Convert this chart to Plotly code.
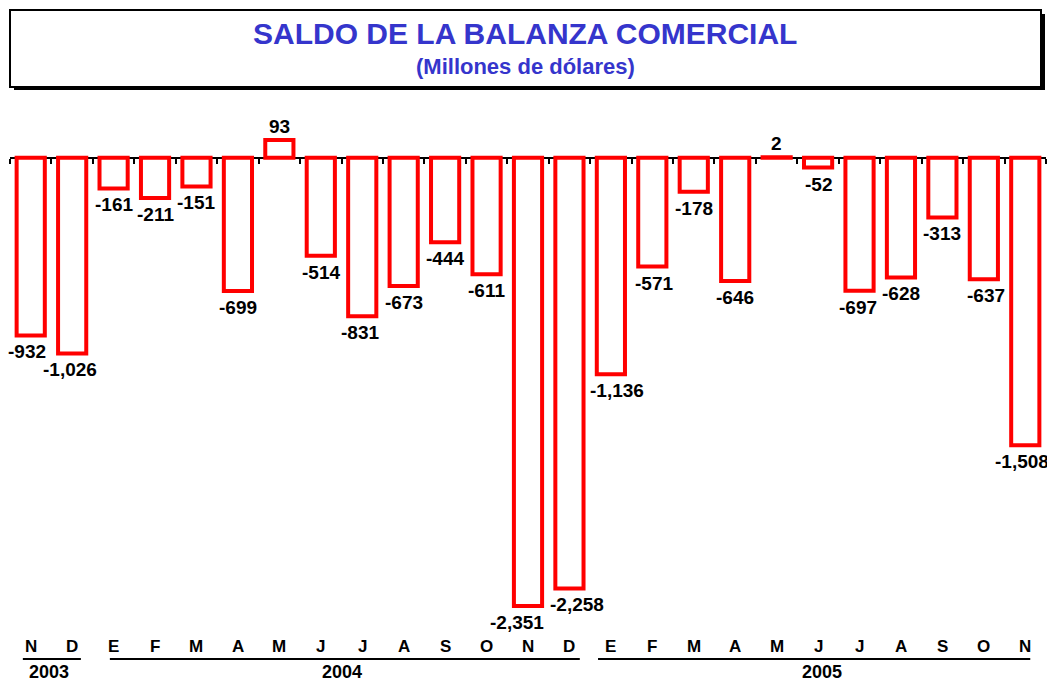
import plotly.graph_objects as go

# ---- data ----
months = ["N", "D", "E", "F", "M", "A", "M", "J", "J", "A", "S", "O", "N", "D",
          "E", "F", "M", "A", "M", "J", "J", "A", "S", "O", "N"]
values = [-932, -1026, -161, -211, -151, -699, 93, -514, -831, -673, -444, -611,
          -2351, -2258, -1136, -571, -178, -646, 2, -52, -697, -628, -313, -637, -1508]
years = ["2003", "2004", "2005"]
year_spans = [(-0.19, 1.21), (1.91, 13.25), (13.69, 24.12)]
year_label_x = [0.44, 7.5, 19.1]

# label horizontal nudges (pixels)
label_xshift = [-4, -2, 0, 0, 0, 0, 0, 0, -2, 0, 0, 0, -11, 8, 6, 2, 0, 0, 0, 0, -2, 0, 0, 2, -3]

# The page body has an 8px margin: design in page pixels, convert to figure pixels.
OFF = 8
W, H = 1055 - OFF, 683 - OFF
PLOT_L, PLOT_R, PLOT_T, PLOT_B = 10, 1046, 110, 625   # page pixels
M_L = PLOT_L - OFF
M_R = W - (PLOT_R - OFF)
M_T = PLOT_T - OFF
M_B = H - (PLOT_B - OFF)
YMIN, YMAX = -2450, 250


def py(pix):
    return (PLOT_B - pix) / (PLOT_B - PLOT_T)


def px_x(pix):
    return (pix - PLOT_L) / (PLOT_R - PLOT_L)


def fmt(v):
    return f"{v:,}"


x = list(range(len(values)))

fig = go.Figure()
fig.add_trace(go.Bar(
    x=x, y=values, width=0.68,
    marker=dict(color="white", line=dict(color="#FF0000", width=4)),
    hoverinfo="skip",
))

FONT = "Arial, Liberation Sans, sans-serif"
ann = []
for i, v in enumerate(values):
    if v >= 0:
        ann.append(dict(x=i, y=v, xref="x", yref="y", text=fmt(v), showarrow=False,
                        yanchor="bottom", yshift=1, xshift=label_xshift[i],
                        font=dict(family=FONT, size=19, color="black")))
    else:
        ann.append(dict(x=i, y=v, xref="x", yref="y", text=fmt(v), showarrow=False,
                        yanchor="top", yshift=-4, xshift=label_xshift[i],
                        font=dict(family=FONT, size=19, color="black")))

for i, m in enumerate(months):
    ann.append(dict(x=i, y=py(646), xref="x", yref="paper", text=m, showarrow=False,
                    yanchor="middle", font=dict(family=FONT, size=17, color="black")))

shapes = []
for yl, (a, b), lx in zip(years, year_spans, year_label_x):
    shapes.append(dict(type="line", xref="x", yref="paper", x0=a, x1=b,
                       y0=py(659), y1=py(659), line=dict(color="black", width=2)))
    ann.append(dict(x=lx, y=py(672), xref="x", yref="paper", text=yl, showarrow=False,
                    yanchor="middle", font=dict(family=FONT, size=18, color="black")))

# title box with shadow
shapes.append(dict(type="rect", xref="paper", yref="paper",
                   x0=px_x(14), x1=px_x(1045), y0=py(90), y1=py(14),
                   fillcolor="black", line=dict(width=0), layer="below"))
shapes.append(dict(type="rect", xref="paper", yref="paper",
                   x0=px_x(10), x1=px_x(1041), y0=py(87), y1=py(10),
                   fillcolor="white", line=dict(color="black", width=2), layer="below"))

title_x = px_x(525)
ann.append(dict(x=title_x, y=py(34), xref="paper", yref="paper", showarrow=False,
                text="<b>SALDO DE LA BALANZA COMERCIAL</b>", yanchor="middle",
                font=dict(family=FONT, size=30, color="#3535CC")))
ann.append(dict(x=title_x, y=py(67), xref="paper", yref="paper", showarrow=False,
                text="<b>(Millones de dólares)</b>", yanchor="middle",
                font=dict(family=FONT, size=22, color="#3535CC")))

for a in ann:
    if not a["text"].startswith("<b>"):
        a["text"] = "<b>" + a["text"] + "</b>"

zero_pos = (0 - YMIN) / (YMAX - YMIN)

fig.update_layout(
    width=W, height=H, autosize=False,
    margin=dict(l=M_L, r=M_R, t=M_T, b=M_B, pad=0),
    paper_bgcolor="white", plot_bgcolor="white",
    showlegend=False,
    xaxis=dict(range=[-0.5, len(values) - 0.5], anchor="free", position=zero_pos,
               showline=True, linecolor="black", linewidth=2, layer="below traces",
               ticks="outside", ticklen=5, tickwidth=2, tickcolor="black",
               tickmode="array", tickvals=[i - 0.5 for i in range(len(values) + 1)],
               showticklabels=False, showgrid=False, zeroline=False, fixedrange=True),
    yaxis=dict(range=[YMIN, YMAX], visible=False, fixedrange=True),
    annotations=ann, shapes=shapes,
)

fig.write_html("out.html")
